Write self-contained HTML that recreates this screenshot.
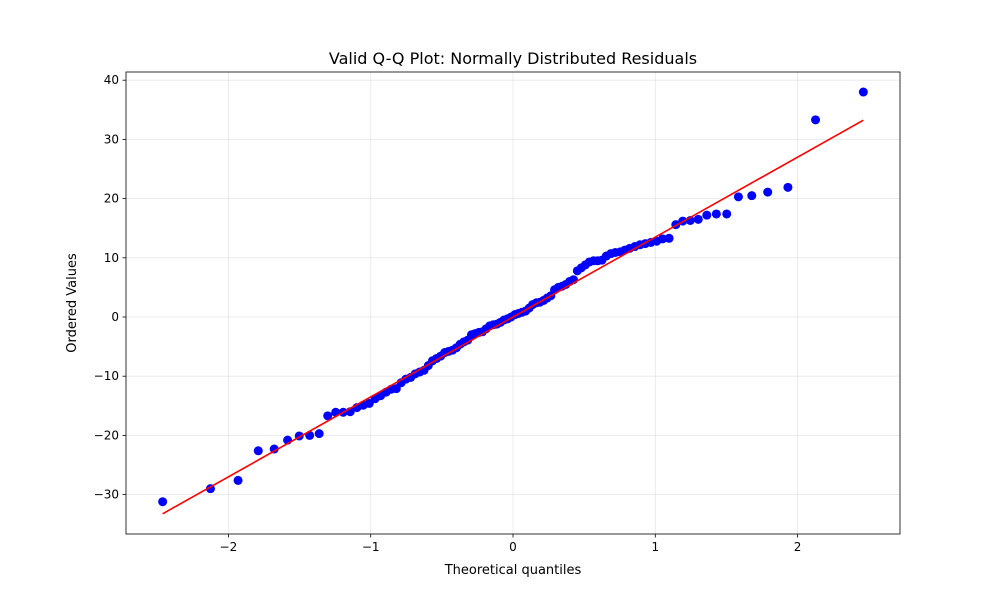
<!DOCTYPE html>
<html><head><meta charset="utf-8"><style>
body{margin:0;background:#fff;font-family:"Liberation Sans","DejaVu Sans",sans-serif}
svg text{font-family:"DejaVu Sans","Liberation Sans",sans-serif}
</style></head><body>
<svg id="chart" width="1000" height="600" xmlns="http://www.w3.org/2000/svg"></svg>
<script>
const theoretical=[-2.462,-2.126,-1.932,-1.790,-1.678,-1.584,-1.502,-1.429,-1.362,-1.302,-1.246,-1.193,-1.144,-1.097,-1.052,-1.010,-0.969,-0.930,-0.892,-0.856,-0.820,-0.786,-0.753,-0.719,-0.687,-0.656,-0.625,-0.595,-0.566,-0.537,-0.508,-0.480,-0.452,-0.425,-0.398,-0.371,-0.345,-0.318,-0.292,-0.266,-0.240,-0.215,-0.189,-0.164,-0.138,-0.113,-0.088,-0.063,-0.038,-0.013,
0.013,0.038,0.063,0.088,0.113,0.138,0.164,0.189,0.215,0.240,0.266,0.292,0.318,0.345,0.371,0.398,0.425,0.452,0.480,0.508,0.537,0.566,0.595,0.625,0.656,0.687,0.719,0.753,0.786,0.820,0.856,0.892,0.930,0.969,1.010,1.052,1.097,1.144,1.193,1.246,1.302,1.362,1.429,1.502,1.584,1.678,1.790,1.932,2.126,2.462];
const ordered=[-31.2,-29.0,-27.6,-22.6,-22.3,-20.8,-20.1,-20.0,-19.7,-16.7,-16.1,-16.1,-16.0,-15.3,-14.9,-14.6,-13.8,-13.3,-12.7,-12.2,-12.1,-11.1,-10.5,-10.2,-9.6,-9.3,-9.0,-8.2,-7.4,-7.0,-6.6,-6.0,-5.8,-5.6,-5.2,-4.6,-4.2,-3.9,-3.0,-2.8,-2.6,-2.5,-2.0,-1.5,-1.3,-1.2,-0.9,-0.5,-0.3,0.0,
0.4,0.6,0.8,1.0,1.5,2.1,2.4,2.5,2.8,3.2,3.6,4.6,5.0,5.2,5.5,6.0,6.3,7.8,8.3,8.8,9.3,9.5,9.5,9.6,10.3,10.7,10.9,11.0,11.3,11.6,11.9,12.2,12.4,12.6,12.8,13.2,13.3,15.6,16.2,16.3,16.5,17.2,17.4,17.4,20.3,20.5,21.1,21.9,33.3,38.0];
const fitSlope=[13.5];
const fitIntercept=[0.0];
const xTicks=[-2,-1,0,1,2];
const xTickLabels=["\u22122","\u22121","0","1","2"];
const yTicks=[-30,-20,-10,0,10,20,30,40];
const yTickLabels=["\u221230","\u221220","\u221210","0","10","20","30","40"];

const L=126,R=900,T=72,B=534;
const xs=v=>513+(v)*142.3;
const ys=v=>317-(v)*5.92;
const NS="http://www.w3.org/2000/svg";
const svg=document.getElementById('chart');
function mk(tag,attrs,parent){const e=document.createElementNS(NS,tag);for(const k in attrs)e.setAttribute(k,attrs[k]);(parent||svg).appendChild(e);return e;}

const grid=mk('g',{});


xTicks.forEach((t,i)=>{
  mk('line',{x1:xs(t),x2:xs(t),y1:T,y2:B,stroke:'#b0b0b0','stroke-width':0.8,'stroke-opacity':0.3},grid);
  const tk=mk('line',{x1:xs(t),x2:xs(t),y1:B,y2:B+3.5,stroke:'#000','stroke-width':0.8});
  
  
  const tx=mk('text',{x:xs(t),y:B+17,'text-anchor':'middle','font-size':12});
  tx.textContent=xTickLabels[i];
  
  
});
yTicks.forEach((t,i)=>{
  mk('line',{x1:L,x2:R,y1:ys(t),y2:ys(t),stroke:'#b0b0b0','stroke-width':0.8,'stroke-opacity':0.3},grid);
  const tk=mk('line',{x1:L-3.5,x2:L,y1:ys(t),y2:ys(t),stroke:'#000','stroke-width':0.8});
  
  
  const tx=mk('text',{x:L-7,y:ys(t)+4,'text-anchor':'end','font-size':12});
  tx.textContent=yTickLabels[i];
  
  
});

const pts=mk('g',{});


theoretical.forEach((x,i)=>{
  const c=mk('circle',{cx:xs(x),cy:ys(ordered[i]),r:4.5,fill:'#0000ff'},pts);
  
  
});
const x0=theoretical[0],x1=theoretical[theoretical.length-1];
const fl=mk('line',{x1:xs(x0),y1:ys(fitSlope[0]*x0+fitIntercept[0]),x2:xs(x1),y2:ys(fitSlope[0]*x1+fitIntercept[0]),stroke:'#ff0000','stroke-width':1.6});



const fr=mk('rect',{x:L,y:T,width:R-L,height:B-T,fill:'none',stroke:'#000','stroke-width':0.8});



const title=mk('text',{x:(L+R)/2,y:64,'text-anchor':'middle','font-size':16});
title.textContent='Valid Q-Q Plot: Normally Distributed Residuals';


const xl=mk('text',{x:(L+R)/2,y:574,'text-anchor':'middle','font-size':13});
xl.textContent='Theoretical quantiles';


const yl=mk('text',{x:76,y:(T+B)/2,'text-anchor':'middle','font-size':13,transform:`rotate(-90 76 ${(T+B)/2})`});
yl.textContent='Ordered Values';


</script>
</body></html>
